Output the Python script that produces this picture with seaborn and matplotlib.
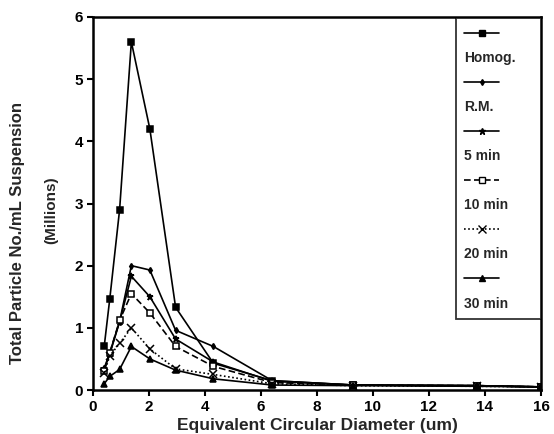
import matplotlib
matplotlib.use("Agg")
import matplotlib.pyplot as plt
from matplotlib.lines import Line2D
import seaborn as sns
import pandas as pd

# ---- data ----
diameter = [0.4, 0.6, 0.95, 1.37, 2.03, 2.95, 4.3, 6.4, 9.3, 13.7, 16.0]
homog = [0.70, 1.47, 2.90, 5.60, 4.20, 1.33, 0.43, 0.15, 0.08, 0.07, 0.05]
rm = [0.35, 0.60, 1.10, 2.00, 1.93, 0.96, 0.70, 0.15, 0.08, 0.07, 0.05]
min5 = [0.33, 0.58, 1.10, 1.83, 1.50, 0.82, 0.45, 0.14, 0.08, 0.07, 0.05]
min10 = [0.30, 0.60, 1.12, 1.55, 1.24, 0.70, 0.38, 0.12, 0.08, 0.07, 0.05]
min20 = [0.28, 0.55, 0.75, 1.00, 0.66, 0.34, 0.25, 0.10, 0.07, 0.06, 0.05]
min30 = [0.10, 0.22, 0.33, 0.70, 0.50, 0.32, 0.18, 0.08, 0.07, 0.06, 0.05]
series_names = ["Homog.", "R.M.", "5 min", "10 min", "20 min", "30 min"]
series_values = [homog, rm, min5, min10, min20, min30]
x_ticks = [0, 2, 4, 6, 8, 10, 12, 14, 16]
y_ticks = [0, 1, 2, 3, 4, 5, 6]

rows = []
for name, vals in zip(series_names, series_values):
    for xv, yv in zip(diameter, vals):
        rows.append({"d": xv, "n": yv, "series": name})
df = pd.DataFrame(rows)

sns.set_theme(style="ticks")
plt.rcParams["font.family"] = ["Liberation Sans", "DejaVu Sans"]
plt.rcParams["font.weight"] = "bold"

markers = {"Homog.": "s", "R.M.": "d", "5 min": "*", "10 min": "s",
           "20 min": "x", "30 min": "^"}
dashes = {"Homog.": "", "R.M.": "", "5 min": "", "10 min": (4, 2),
          "20 min": (1, 1.5), "30 min": ""}
msizes = {"Homog.": 4.8, "R.M.": 3.0, "5 min": 4.5, "10 min": 5.0, "20 min": 5.5, "30 min": 5.0}
palette = {n: "black" for n in series_names}

fig = plt.figure(figsize=(5.54, 4.34), dpi=100)
ax = fig.add_axes([93 / 554, 1 - 390 / 434, 448 / 554, 373 / 434])

sns.lineplot(data=df, x="d", y="n", hue="series", style="series",
             hue_order=series_names, style_order=series_names,
             palette=palette, markers=False, dashes=dashes,
             linewidth=1.2, ax=ax, legend=False, sort=True)

for line, name in zip(ax.lines, series_names):
    line.set_marker(markers[name])
    line.set_markersize(msizes[name])
    line.set_markeredgecolor("black")
    line.set_markeredgewidth(1.1)
    if name == "10 min":
        line.set_markerfacecolor("white")
    else:
        line.set_markerfacecolor("black")

ax.set_xlim(0, 16)
ax.set_ylim(0, 6)
ax.set_xticks(x_ticks)
ax.set_yticks(y_ticks)
ax.tick_params(axis="both", direction="out", length=4, width=1.5,
               labelsize=11, colors="black", pad=3)
for lab in ax.get_xticklabels() + ax.get_yticklabels():
    lab.set_fontweight("bold")
for sp in ax.spines.values():
    sp.set_visible(True)
    sp.set_linewidth(1.8)
    sp.set_color("black")

ax.set_xlabel("Equivalent Circular Diameter (um)", fontsize=12.5,
              fontweight="bold", labelpad=3)
ax.set_ylabel("")
fig.text(18 / 554, 1 - 233 / 434, "Total Particle No./mL Suspension",
         rotation=90, ha="center", va="center", fontsize=12, fontweight="bold")
fig.text(51 / 554, 1 - 210 / 434, "(Millions)",
         rotation=90, ha="center", va="center", fontsize=11, fontweight="bold")

# legend: line sample above each label
handles, labels = [], []
for name in series_names:
    h = Line2D([], [], color="black", linewidth=1.2, marker=markers[name],
               markersize=msizes[name], markeredgecolor="black",
               markerfacecolor="white" if name == "10 min" else "black",
               linestyle="-" if dashes[name] == "" else (0, dashes[name]))
    handles.append(h)
    labels.append(" ")
    handles.append(Line2D([], [], linestyle="none", marker=None))
    labels.append(name)

leg = ax.legend(handles, labels, loc="upper left",
                bbox_to_anchor=(0.81, 0.997, 0.19, 0), mode="expand",
                borderaxespad=0, handlelength=2.5, handletextpad=-2.5,
                labelspacing=0.76, fontsize=10, frameon=True, fancybox=False,
                edgecolor="black", borderpad=0.6)
leg.get_frame().set_linewidth(1.3)
for t in leg.get_texts():
    t.set_fontweight("bold")

fig.savefig("out.png", dpi=100)
